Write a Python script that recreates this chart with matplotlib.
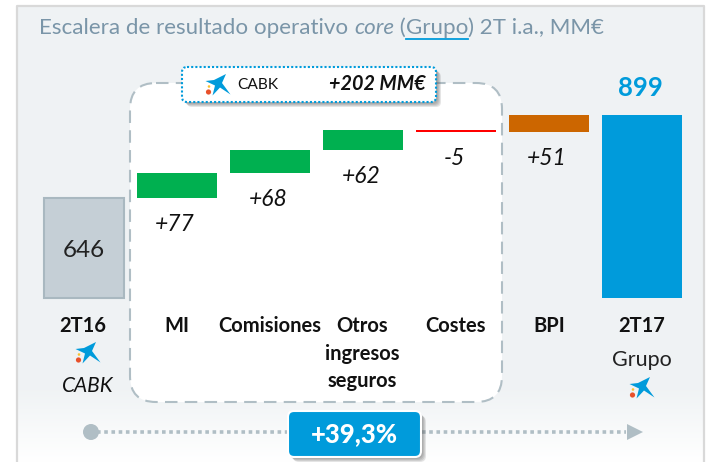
import numpy as np
import matplotlib
matplotlib.use("Agg")

import matplotlib.pyplot as plt
from matplotlib.colors import LinearSegmentedColormap
from matplotlib.patches import FancyBboxPatch, Polygon, Circle, Rectangle

plt.rcParams["font.family"] = ["Lato", "DejaVu Sans"]

CATEGORIES = ["2T16", "MI", "Comisiones", "Otros\ningresos\nseguros", "Costes", "BPI", "2T17"]
START_VALUE = 646
END_VALUE = 899
DELTAS = [77, 68, 62, -5, 51]
DELTA_LABELS = ["+77", "+68", "+62", "-5", "+51"]
DELTA_COLORS = ["#00B050", "#00B050", "#00B050", "#FF0000", "#CC6600"]
CABK_TOTAL = "+202 MM€"
GROWTH = "+39,3%"

W, H = 708, 462
BLUE = "#009BDB"
PANEL = "#EFF2F4"
GREY_TXT = "#7A95A8"
DASH = "#B0BEC5"

fig = plt.figure(figsize=(W / 100, H / 100), dpi=100)


def pixel_axes(z):
    a = fig.add_axes([0, 0, 1, 1])
    a.patch.set_alpha(0)
    a.axis("off")
    a.set_zorder(z)
    a.set_xlim(0, W)
    a.set_ylim(H, 0)
    return a


def rbox(layer, x0, y0, x1, y1, r, **kw):
    p = FancyBboxPatch((x0 + r, y0 + r), x1 - x0 - 2 * r, y1 - y0 - 2 * r,
                       boxstyle=f"round,pad={r},rounding_size={r}", **kw)
    layer.add_patch(p)
    return p


def shadow(layer, x0, y0, x1, y1, r, z):
    for i in range(4):
        rbox(layer, x0 + 2 + i, y0 + 2 + i, x1 + 2 + i, y1 + 2 + i, r, fc="#555555",
             ec="none", alpha=0.15, zorder=z)


def logo(layer, cx, cy):
    star = np.array([(-12.5, -4), (-4, -5), (8, -11), (4, -2), (12.5, 9.5), (2, 2.5),
                     (-5.5, 10.5), (-3, 0.5)]) + (cx, cy)
    layer.add_patch(Polygon(star, fc=BLUE, ec="none", zorder=9))
    layer.add_patch(Circle((cx - 9.5, cy + 7), 2.6, fc="#E8502A", ec="none", zorder=9))
    layer.add_patch(Circle((cx - 9, cy + 1.5), 1.3, fc="#F9C22E", ec="none", zorder=9))


# panel and white dashed box, behind the bars
bg = pixel_axes(1)
grad = np.linspace(1, 0, 100).reshape(-1, 1)
bg.imshow(grad, extent=(17, 704, 462, 385), aspect="auto", zorder=1,
          cmap=LinearSegmentedColormap.from_list("p", ["#FFFFFF", PANEL]), vmin=0, vmax=1)
bg.add_patch(Rectangle((17, 6), 687, 379.5, fc=PANEL, ec="none", zorder=1))
bg.plot([17, 17, 704, 704], [462, 6, 6, 462], color="#D9D9D9", lw=1.6, zorder=2)
bg.set_xlim(0, W)
bg.set_ylim(H, 0)
rbox(bg, 130, 83, 502, 402, 26, fc="white", ec=DASH, lw=1.5, ls=(0, (6, 3.5)), zorder=3)

# waterfall on its own scale, 0.328 px per MM€ with the base cut at 341
ax = fig.add_axes([0, 0, 1, 1])
ax.patch.set_alpha(0)
ax.axis("off")
ax.set_zorder(2)
BASE = 341
PX_PER_UNIT = 0.328
ax.set_xlim((0 - 84) / 93, (W - 84) / 93)
ax.set_ylim(BASE + (298 - H) / PX_PER_UNIT, BASE + 298 / PX_PER_UNIT)

x = np.arange(len(CATEGORIES))
ax.bar(x[0], START_VALUE - BASE, bottom=BASE, width=0.87, color="#C5CFD6",
       edgecolor="#A9B8C0", linewidth=1.5)
ax.bar(x[-1], END_VALUE - BASE, bottom=BASE, width=0.87, color=BLUE)

running = START_VALUE
for i, (d, lab, c) in enumerate(zip(DELTAS, DELTA_LABELS, DELTA_COLORS), start=1):
    low = min(running, running + d)
    ax.bar(x[i], abs(d), bottom=low, width=0.87, color=c)
    ax.text(x[i] - 0.02, low - 26.5 / PX_PER_UNIT, lab, ha="center", va="center",
            style="italic", fontsize=16.5, color="#111111")
    running += d

ax.text(x[0], 486, str(START_VALUE), ha="center", va="center", fontsize=17.5, color="#222222")
ax.text(x[-1] - 0.02, END_VALUE + 27 / PX_PER_UNIT, str(END_VALUE), ha="center", va="center",
        fontsize=18.5, fontweight="bold", color=BLUE)

# labels, callout and arrow on pixel rows
top = pixel_axes(3)

label_x = [83, 177, 270, 362, 456, 549, 642]
for lx, cat in zip(label_x, CATEGORIES):
    top.text(lx, 316, cat, ha="center", va="top", fontsize=14.5, fontweight="bold",
             color="#111111", linespacing=1.48)

top.text(88, 386, "CABK", ha="center", va="center", style="italic", fontsize=15, color="#111111")
top.text(642, 360, "Grupo", ha="center", va="center", fontsize=15.5, color="#222222")

shadow(top, 182, 67, 436, 102, 5, 6)
rbox(top, 182, 67, 436, 102, 5, fc="white", ec=BLUE, lw=1.5, ls=(0, (1, 1)), zorder=7)
top.text(237, 85, "CABK", ha="left", va="center", fontsize=11.2, color="#111111", zorder=8)
top.text(426, 84, CABK_TOTAL, ha="right", va="center", fontsize=14.2, fontweight="bold",
         style="italic", color="#111111", zorder=8)

top.plot([97, 626], [432, 432], color=DASH, lw=2.6, ls=(0, (1, 1)), zorder=1)
top.add_patch(Circle((91, 432), 8, fc=DASH, ec="none", zorder=2))
top.add_patch(Polygon([(627, 424), (643, 432), (627, 440)], fc=DASH, ec="none", zorder=2))
shadow(top, 288, 411, 421, 457, 6, 3)
rbox(top, 288, 411, 421, 457, 6, fc=BLUE, ec="white", lw=1.5, zorder=4)
top.text(354, 434, GROWTH, ha="center", va="center", fontsize=18.5, fontweight="black",
         color="white", zorder=5)

logo(top, 88, 353)
logo(top, 218, 85)
logo(top, 642, 388)

# title in pieces because of the italic word and the blue underline
fig.canvas.draw()
rend = fig.canvas.get_renderer()
cur = 39
pieces = [("Escalera de resultado operativo ", "normal"), ("core", "italic"), (" (", "normal"),
          ("Grupo", "normal"), (") 2T i.a., MM€", "normal")]
for s, st in pieces:
    t = top.text(cur, 28, s.replace(" ", "\u00a0"), ha="left", va="center", fontsize=16.1,
                 style=st, color=GREY_TXT)
    w = t.get_window_extent(rend).width
    if s == "Grupo":
        top.plot([cur, cur + w], [38.5, 38.5], color=BLUE, lw=1.3)
    cur += w

fig.savefig("out.png", dpi=100)
